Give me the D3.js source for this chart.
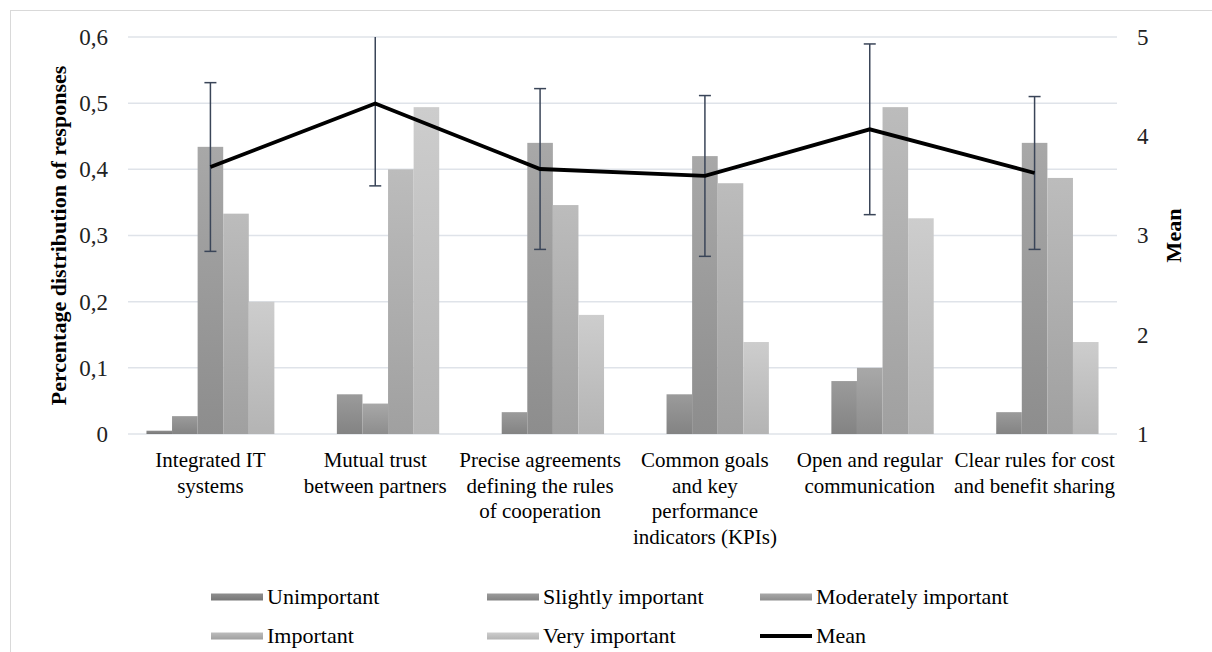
<!DOCTYPE html>
<html>
<head>
<meta charset="utf-8">
<script src="https://cdn.jsdelivr.net/npm/d3@7"></script>
</head>
<body style="margin:0">
<script>
// data
var categories = [
  "Integrated IT systems",
  "Mutual trust between partners",
  "Precise agreements defining the rules of cooperation",
  "Common goals and key performance indicators (KPIs)",
  "Open and regular communication",
  "Clear rules for cost and benefit sharing"
];
var categoryLines = [
  ["Integrated IT", "systems"],
  ["Mutual trust", "between partners"],
  ["Precise agreements", "defining the rules", "of cooperation"],
  ["Common goals", "and key", "performance", "indicators (KPIs)"],
  ["Open and regular", "communication"],
  ["Clear rules for cost", "and benefit sharing"]
];
var seriesNames = ["Unimportant", "Slightly important", "Moderately important", "Important", "Very important"];

var unimportant = [0.005, 0, 0, 0, 0, 0];
var slightly    = [0.027, 0.06, 0.033, 0.06, 0.08, 0.033];
var moderately  = [0.434, 0.046, 0.44, 0.42, 0.1, 0.44];
var important   = [0.333, 0.4, 0.346, 0.379, 0.494, 0.387];
var veryImp     = [0.2, 0.494, 0.18, 0.139, 0.326, 0.139];

var means = [3.69, 4.33, 3.67, 3.60, 4.07, 3.63];
var sds   = [0.85, 0.83, 0.81, 0.81, 0.86, 0.77];

var leftTicks = [0, 0.1, 0.2, 0.3, 0.4, 0.5, 0.6];
var rightTicks = [1, 2, 3, 4, 5];

var seriesValues = [unimportant, slightly, moderately, important, veryImp];
var seriesTop    = ["#8e8e8e", "#9b9b9b", "#a8a8a8", "#bcbcbc", "#cdcdcd"];
var seriesBottom = ["#777777", "#838383", "#8d8d8d", "#a0a0a0", "#b4b4b4"];

var FONT = "'Liberation Serif'";
var FONT2 = "'Times New Roman'";

var width = 1212, height = 652;
var margin = {top: 37, right: 95, bottom: 218, left: 128};
var plotW = width - margin.left - margin.right,
    plotH = height - margin.top - margin.bottom;

var svg = d3.select("body").append("svg")
  .attr("width", width)
  .attr("height", height);

// outer frame
svg.append("rect")
  .attr("x", 10.5).attr("y", 10.5)
  .attr("width", width).attr("height", height)
  .attr("fill", "none")
  .attr("stroke", "#d9d9d9")
  .attr("stroke-width", 1);

var defs = svg.append("defs");
seriesNames.forEach(function(s, i){
  var g = defs.append("linearGradient")
    .attr("id", "grad" + i)
    .attr("x1", 0).attr("y1", 0).attr("x2", 0).attr("y2", 1);
  g.append("stop").attr("offset", "0%").attr("stop-color", seriesTop[i]);
  g.append("stop").attr("offset", "100%").attr("stop-color", seriesBottom[i]);
});

defs.append("clipPath").attr("id", "plotclip")
  .append("rect").attr("x", -20).attr("y", 0).attr("width", plotW + 40).attr("height", plotH + 2);

var chart = svg.append("g")
  .attr("transform", "translate(" + margin.left + "," + margin.top + ")");

var x0 = d3.scaleBand()
  .domain(categories)
  .range([0, plotW])
  .paddingInner(0.224)
  .paddingOuter(0.112);

var x1 = d3.scaleBand()
  .domain(d3.range(seriesNames.length))
  .range([0, x0.bandwidth()]);

var y = d3.scaleLinear().domain([0, 0.6]).range([plotH, 0]);
var yMean = d3.scaleLinear().domain([1, 5]).range([plotH, 0]);

// gridlines
chart.append("g").attr("class", "grid")
  .selectAll("line")
  .data(leftTicks)
  .enter().append("line")
  .attr("x1", 0).attr("x2", plotW)
  .attr("y1", function(d){ return y(d); })
  .attr("y2", function(d){ return y(d); })
  .attr("stroke", "#dfe3e9")
  .attr("stroke-width", 1.5);

// left axis
var fmt = function(d){ return d === 0 ? "0" : d3.format(".1f")(d).replace(".", ","); };
var yAxisL = d3.axisLeft(y).tickValues(leftTicks).tickFormat(fmt).tickSize(0).tickPadding(20);
var gL = chart.append("g").call(yAxisL).attr("font-family", null).attr("font-size", null);
gL.select(".domain").remove();
gL.selectAll("text").style("font-family", FONT).style("font-size", "23px").attr("fill", "#222");

// right axis
var yAxisR = d3.axisRight(yMean).tickValues(rightTicks).tickFormat(d3.format("d")).tickSize(0).tickPadding(20);
var gR = chart.append("g").attr("transform", "translate(" + plotW + ",0)").call(yAxisR)
  .attr("font-family", null).attr("font-size", null);
gR.select(".domain").remove();
gR.selectAll("text").style("font-family", FONT).style("font-size", "23px").attr("fill", "#222");

// bars
var groups = chart.selectAll("g.cat")
  .data(categories)
  .enter().append("g")
  .attr("class", "cat")
  .attr("transform", function(d){ return "translate(" + x0(d) + ",0)"; });

groups.selectAll("rect")
  .data(function(d, ci){ return seriesValues.map(function(vals, si){ return {s: si, v: vals[ci]}; }); })
  .enter().append("rect")
  .filter(function(d){ return d.v > 0; })
  .attr("x", function(d){ return x1(d.s); })
  .attr("width", x1.bandwidth())
  .attr("y", function(d){ return y(d.v); })
  .attr("height", function(d){ return plotH - y(d.v); })
  .attr("fill", function(d){ return "url(#grad" + d.s + ")"; });

var cx = function(i){ return x0(categories[i]) + x0.bandwidth() / 2; };

// error bars
var eb = chart.append("g").attr("clip-path", "url(#plotclip)");
means.forEach(function(m, i){
  var hi = m + sds[i], lo = m - sds[i];
  var xc = cx(i);
  eb.append("line")
    .attr("x1", xc).attr("x2", xc)
    .attr("y1", yMean(hi)).attr("y2", yMean(lo))
    .attr("stroke", "#3a4558").attr("stroke-width", 1.5);
  [hi, lo].forEach(function(v){
    eb.append("line")
      .attr("x1", xc - 6).attr("x2", xc + 6)
      .attr("y1", yMean(v)).attr("y2", yMean(v))
      .attr("stroke", "#3a4558").attr("stroke-width", 1.5);
  });
});

// mean line
var line = d3.line()
  .x(function(d, i){ return cx(i); })
  .y(function(d){ return yMean(d); });
chart.append("path")
  .datum(means)
  .attr("d", line)
  .attr("fill", "none")
  .attr("stroke", "#000")
  .attr("stroke-width", 3.8)
  .attr("stroke-linejoin", "miter");

// axis titles
svg.append("text")
  .attr("transform", "translate(66," + (margin.top + plotH / 2) + ") rotate(-90)")
  .attr("text-anchor", "middle")
  .style("font-family", FONT)
  .style("font-size", "22px")
  .style("font-weight", "bold")
  .text("Percentage distribution of responses");

svg.append("text")
  .attr("transform", "translate(1181," + (margin.top + plotH / 2) + ") rotate(-90)")
  .attr("text-anchor", "middle")
  .style("font-family", FONT)
  .style("font-size", "22px")
  .style("font-weight", "bold")
  .text("Mean");

// x labels, built the same way as the titles
categoryLines.forEach(function(lines, i){
  lines.forEach(function(t, j){
    svg.append("text")
      .attr("transform", "translate(" + (margin.left + cx(i)) + "," + (margin.top + plotH + 33 + j * 25.5) + ")")
      .attr("text-anchor", "middle")
      .style("font-family", FONT2)
      .style("font-size", "21px")
      .style("font-weight", "normal")
      .text(t);
  });
});

// legend
var legendItems = seriesNames.map(function(n, i){ return {name: n, type: "bar", i: i}; })
  .concat([{name: "Mean", type: "line"}]);
var colX = [211, 487, 760];
var rowY = [597, 636];
legendItems.forEach(function(d, k){
  var lx = colX[k % 3], ly = rowY[Math.floor(k / 3)];
  if (d.type === "bar") {
    svg.append("rect").attr("x", lx).attr("y", ly - 3.5).attr("width", 52).attr("height", 7)
      .attr("fill", "url(#grad" + d.i + ")");
  } else {
    svg.append("line").attr("x1", lx).attr("x2", lx + 52).attr("y1", ly).attr("y2", ly)
      .attr("stroke", "#000").attr("stroke-width", 3.8);
  }
  svg.append("text")
    .attr("transform", "translate(" + (lx + 56) + "," + (ly + 7) + ")")
    .attr("text-anchor", "start")
    .style("font-family", FONT2)
    .style("font-size", "22px")
    .style("font-weight", "normal")
    .text(d.name);
});
</script>
</body>
</html>
